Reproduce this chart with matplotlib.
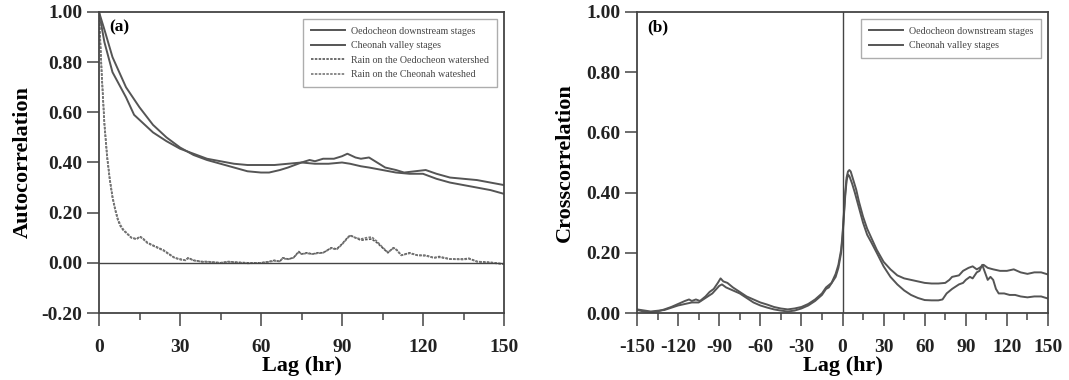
import matplotlib
matplotlib.use("Agg")
import matplotlib.pyplot as plt
from matplotlib.ticker import MultipleLocator, FormatStrFormatter

plt.rcParams['font.family'] = ['Liberation Serif', 'DejaVu Serif']
plt.rcParams['axes.unicode_minus'] = False

# ---------- Panel (a): autocorrelation ----------
lag_a1 = [0, 2, 5, 10, 15, 20, 25, 30, 35, 40, 45, 50, 55, 60, 63, 67, 70, 75, 78, 80, 83, 87, 90, 92,
          95, 97, 100, 103, 106, 110, 113, 117, 121, 125, 130, 135, 140, 145, 150]
oedo_stage = [1.0, 0.93, 0.82, 0.70, 0.62, 0.55, 0.50, 0.46, 0.43, 0.41, 0.395, 0.38, 0.365, 0.36, 0.36,
              0.37, 0.38, 0.40, 0.41, 0.405, 0.415, 0.415, 0.425, 0.435, 0.42, 0.415, 0.42, 0.40, 0.38,
              0.37, 0.36, 0.365, 0.37, 0.355, 0.34, 0.335, 0.33, 0.32, 0.31]

lag_a2 = [0, 2, 5, 8, 10, 13, 15, 20, 25, 30, 35, 40, 45, 50, 55, 60, 65, 70, 75, 80, 85, 90, 93, 97,
          100, 105, 110, 115, 120, 125, 130, 135, 140, 145, 150]
cheo_stage = [1.0, 0.88, 0.76, 0.70, 0.66, 0.59, 0.57, 0.52, 0.485, 0.455, 0.435, 0.415, 0.405, 0.395,
              0.39, 0.39, 0.39, 0.395, 0.40, 0.395, 0.395, 0.40, 0.395, 0.385, 0.38, 0.37, 0.36, 0.355,
              0.355, 0.335, 0.32, 0.31, 0.30, 0.29, 0.275]

lag_rain = [0, 1, 2, 3, 4, 5, 6, 7, 8, 9, 10, 12, 14, 15, 16, 18, 20, 22, 24, 26, 28, 30, 32, 33, 35,
            38, 40, 45, 48, 50, 55, 60, 63, 65, 67, 68, 70, 72, 74, 75, 77, 79, 81, 83, 86, 88, 90, 92,
            93, 95, 97, 99, 101, 103, 105, 107, 109, 110, 112, 115, 118, 121, 124, 126, 130, 135, 137,
            140, 145, 150]
rain_oedo = [1.0, 0.75, 0.55, 0.42, 0.33, 0.26, 0.21, 0.17, 0.145, 0.13, 0.12, 0.10, 0.095, 0.105, 0.10,
             0.08, 0.07, 0.06, 0.05, 0.035, 0.02, 0.015, 0.01, 0.02, 0.01, 0.005, 0.005, 0.0, 0.005,
             0.003, 0.0, 0.0, 0.005, 0.01, 0.005, 0.02, 0.015, 0.02, 0.045, 0.035, 0.04, 0.035, 0.04,
             0.04, 0.06, 0.055, 0.075, 0.10, 0.11, 0.10, 0.09, 0.093, 0.095, 0.08, 0.06, 0.04, 0.06,
             0.055, 0.03, 0.04, 0.03, 0.03, 0.02, 0.025, 0.015, 0.015, 0.018, 0.005, 0.002, -0.005]
rain_cheo = [1.0, 0.76, 0.56, 0.43, 0.335, 0.265, 0.215, 0.175, 0.15, 0.133, 0.122, 0.10, 0.094, 0.104,
             0.098, 0.078, 0.068, 0.058, 0.048, 0.033, 0.02, 0.013, 0.01, 0.018, 0.01, 0.004, 0.004,
             0.0, 0.004, 0.002, -0.002, 0.0, 0.004, 0.008, 0.006, 0.018, 0.014, 0.02, 0.043, 0.035,
             0.038, 0.035, 0.038, 0.04, 0.058, 0.053, 0.073, 0.098, 0.108, 0.10, 0.095, 0.10, 0.103,
             0.085, 0.062, 0.042, 0.058, 0.053, 0.03, 0.038, 0.03, 0.028, 0.02, 0.022, 0.015, 0.013,
             0.016, 0.005, 0.0, -0.005]

# ---------- Panel (b): crosscorrelation ----------
lag_b1 = [-150, -145, -140, -135, -130, -125, -120, -115, -112, -110, -107, -104, -100, -97, -94, -91,
          -89, -87, -84, -80, -75, -70, -65, -60, -55, -50, -45, -40, -35, -30, -25, -20, -15, -12, -8,
          -5, -3, -1, 0, 1, 2, 3, 4, 5, 6, 8, 10, 12, 15, 18, 21, 25, 30, 35, 40, 45, 50, 55, 60, 65,
          70, 75, 78, 80, 85, 88, 92, 95, 98, 100, 103, 106, 110, 115, 120, 125, 130, 135, 140, 145, 150]
cc_oedo = [0.01, 0.005, 0.003, 0.005, 0.012, 0.02, 0.03, 0.04, 0.045, 0.04, 0.045, 0.04, 0.055, 0.07,
           0.08, 0.10, 0.115, 0.105, 0.10, 0.085, 0.07, 0.055, 0.045, 0.035, 0.028, 0.02, 0.015, 0.012,
           0.015, 0.02, 0.03, 0.045, 0.065, 0.085, 0.10, 0.13, 0.16, 0.21, 0.26, 0.33, 0.40, 0.45, 0.47,
           0.475, 0.47, 0.44, 0.41, 0.37, 0.32, 0.28, 0.25, 0.21, 0.17, 0.145, 0.125, 0.115, 0.11, 0.105,
           0.10, 0.098, 0.098, 0.10, 0.11, 0.12, 0.125, 0.14, 0.15, 0.155, 0.145, 0.15, 0.16, 0.15,
           0.145, 0.14, 0.14, 0.145, 0.135, 0.13, 0.135, 0.135, 0.128]

lag_b2 = [-150, -140, -130, -120, -115, -110, -105, -100, -95, -90, -88, -85, -80, -75, -70, -65, -60,
          -55, -50, -45, -40, -35, -30, -25, -20, -15, -12, -10, -5, -3, -1, 0, 1, 2, 3, 4, 5, 7, 9,
          12, 15, 18, 21, 25, 30, 35, 40, 45, 50, 55, 60, 65, 70, 73, 76, 80, 85, 88, 90, 93, 95, 98,
          100, 102, 104, 106, 108, 110, 112, 114, 118, 122, 126, 130, 135, 140, 145, 150]
cc_cheo = [0.012, 0.005, 0.01, 0.025, 0.03, 0.035, 0.035, 0.05, 0.065, 0.09, 0.095, 0.085, 0.075,
           0.065, 0.05, 0.035, 0.025, 0.018, 0.012, 0.008, 0.005, 0.008, 0.015, 0.025, 0.04, 0.06,
           0.08, 0.085, 0.12, 0.15, 0.20, 0.25, 0.32, 0.39, 0.44, 0.46, 0.455, 0.43, 0.40, 0.35, 0.30,
           0.26, 0.235, 0.20, 0.155, 0.12, 0.095, 0.075, 0.06, 0.05, 0.043, 0.042, 0.042, 0.045, 0.065,
           0.08, 0.095, 0.10, 0.11, 0.12, 0.115, 0.135, 0.14, 0.16, 0.135, 0.11, 0.12, 0.11, 0.08,
           0.065, 0.065, 0.06, 0.06, 0.055, 0.052, 0.055, 0.055, 0.048]

xticks_a = [0, 30, 60, 90, 120, 150]
xticks_b = [-150, -120, -90, -60, -30, 0, 30, 60, 90, 120, 150]
yticks_a = [-0.2, 0.0, 0.2, 0.4, 0.6, 0.8, 1.0]
yticks_b = [0.0, 0.2, 0.4, 0.6, 0.8, 1.0]

LC = '#555555'
SC = '#444444'

fig = plt.figure(figsize=(10.69, 3.80), dpi=100)
ax1 = fig.add_axes([99/1069, 1-313/380, (504-99)/1069, (313-12)/380])
ax2 = fig.add_axes([637/1069, 1-313/380, (1048-637)/1069, (313-12)/380])

ax1.plot(lag_a1, oedo_stage, color=LC, lw=1.4, label='Oedocheon downstream stages')
ax1.plot(lag_a2, cheo_stage, color=LC, lw=1.4, label='Cheonah valley stages')
ax1.plot(lag_rain, rain_oedo, color=LC, lw=1.2, ls=(0, (1.5, 0.8)), label='Rain on the Oedocheon watershed')
ax1.plot(lag_rain, rain_cheo, color='#777777', lw=1.2, ls=(0, (1.5, 0.8)), label='Rain on the Cheonah wateshed')
ax1.axhline(0, color=SC, lw=1.0)
ax1.set_xlim(0, 150)
ax1.set_ylim(-0.2, 1.0)
ax1.set_xticks(xticks_a)
ax1.set_yticks(yticks_a)
ax1.xaxis.set_minor_locator(MultipleLocator(15))
ax1.set_ylabel('Autocorrelation', fontsize=16, fontweight='bold', labelpad=6)
ax1.text(0.025, 0.975, '(a)', transform=ax1.transAxes, fontsize=12.5, fontweight='bold', va='top', ha='left')

ax2.plot(lag_b1, cc_oedo, color=LC, lw=1.4, label='Oedocheon downstream stages')
ax2.plot(lag_b2, cc_cheo, color=LC, lw=1.4, label='Cheonah valley stages')
ax2.axvline(0, color=SC, lw=1.0)
ax2.set_xlim(-150, 150)
ax2.set_ylim(0.0, 1.0)
ax2.set_xticks(xticks_b)
ax2.set_yticks(yticks_b)
ax2.xaxis.set_minor_locator(MultipleLocator(15))
ax2.set_ylabel('Crosscorrelation', fontsize=16, fontweight='bold', labelpad=8)
ax2.text(0.025, 0.975, '(b)', transform=ax2.transAxes, fontsize=12.5, fontweight='bold', va='top', ha='left')

for ax in (ax1, ax2):
    ax.set_xlabel('Lag (hr)', fontsize=16, fontweight='bold', labelpad=0)
    ax.yaxis.set_major_formatter(FormatStrFormatter('%.2f'))
    ax.tick_params(which='major', direction='out', length=9, width=1.1, color=SC, labelsize=14, pad=3)
    ax.tick_params(which='minor', direction='out', length=5, width=1.1, color=SC)
    ax.tick_params(axis='x', pad=10)
    for lab in ax.get_xticklabels() + ax.get_yticklabels():
        lab.set_fontweight('bold')
        lab.set_color('#222222')
    for sp in ax.spines.values():
        sp.set_color(SC)
        sp.set_linewidth(1.3)
    leg = ax.legend(loc='upper right', fontsize=7.2, frameon=True, fancybox=False,
                    handlelength=3.4, borderpad=0.8, labelspacing=0.55, handletextpad=0.6,
                    bbox_to_anchor=(0.995, 0.995))
    leg.get_frame().set_edgecolor('#999999')
    leg.get_frame().set_linewidth(1.0)
    for t in leg.get_texts():
        t.set_color('#444444')

fig.savefig('out.png', dpi=100)
